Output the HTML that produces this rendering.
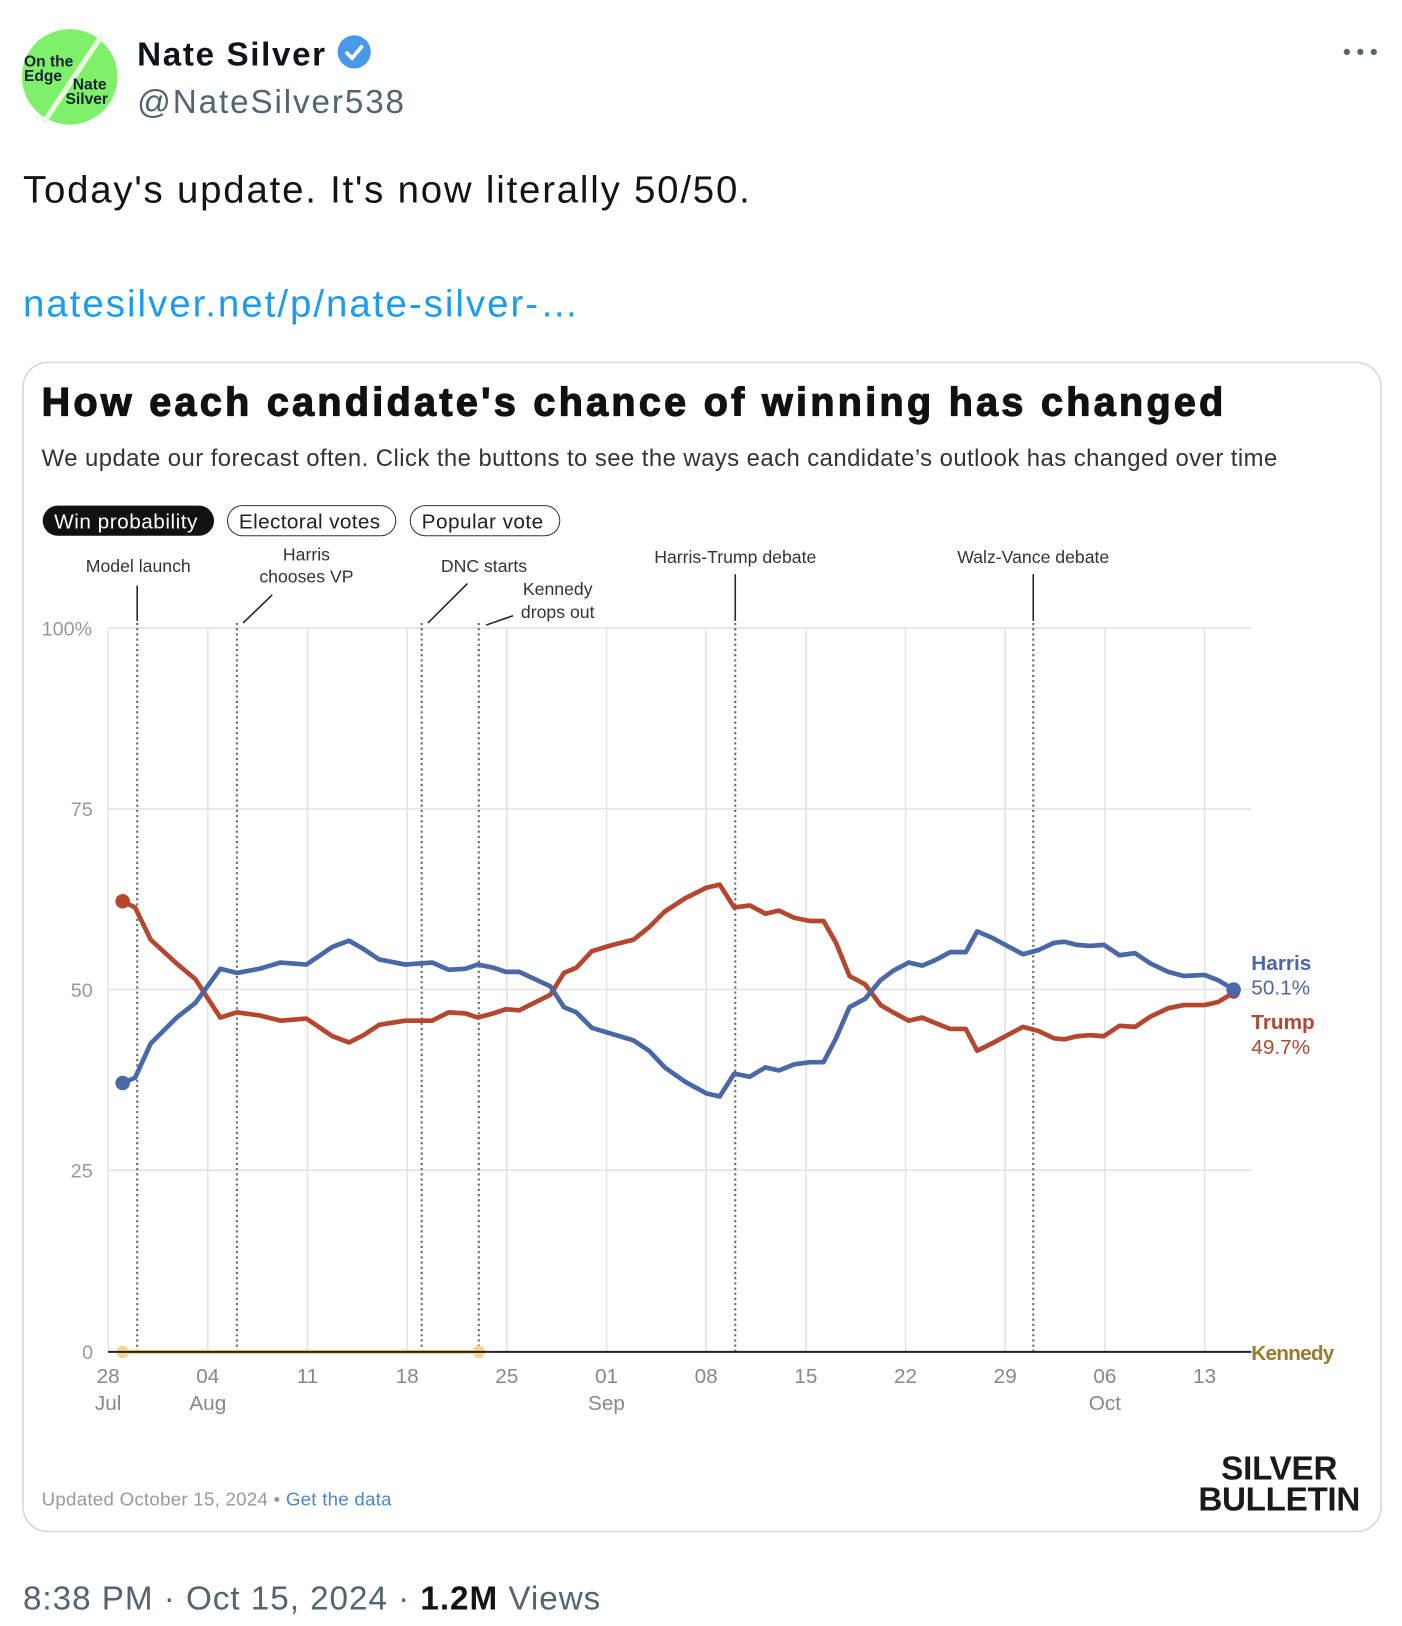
<!DOCTYPE html>
<html><head><meta charset="utf-8"><style>
html,body{margin:0;padding:0;background:#fff;width:1402px;height:1626px;overflow:hidden}
svg{display:block}
</style></head><body>
<svg width="1402" height="1626" viewBox="0 0 1350 1566" xmlns="http://www.w3.org/2000/svg" font-family="Liberation Sans, sans-serif">
<rect width="1350" height="1566" fill="#fff"/>
<circle cx="67" cy="74" r="46" fill="#7ef06a"/>
<line x1="42" y1="118" x2="98" y2="34" stroke="#e9f9dd" stroke-width="5"/>
<text x="23" y="64" font-size="15" font-weight="bold" fill="#123">On the</text>
<text x="23" y="78" font-size="15" font-weight="bold" fill="#123">Edge</text>
<text x="70" y="86" font-size="15" font-weight="bold" fill="#123">Nate</text>
<text x="63" y="100" font-size="15" font-weight="bold" fill="#123">Silver</text>
<text x="132" y="63" font-size="32" font-weight="bold" fill="#0f1419" textLength="181">Nate Silver</text>
<circle cx="341" cy="50" r="16" fill="#4a99e9"/>
<path d="M333 50 l6 6 l10 -12" stroke="#fff" stroke-width="3.5" fill="none"/>
<text x="132" y="109" font-size="32" fill="#536471" textLength="257">@NateSilver538</text>
<circle cx="1297" cy="50" r="3" fill="#536471"/><circle cx="1310" cy="50" r="3" fill="#536471"/><circle cx="1323" cy="50" r="3" fill="#536471"/>
<text x="22" y="195" font-size="37" fill="#0f1419" textLength="700">Today's update. It's now literally 50/50.</text>
<text x="22" y="305" font-size="37" fill="#1d9bf0" textLength="535">natesilver.net/p/nate-silver-…</text>
<rect x="22" y="349" width="1308" height="1126" rx="24" fill="#fff" stroke="#cfd9de" stroke-width="1.5"/>
<text x="40" y="400" font-size="38" font-weight="900" fill="#111" stroke="#111" stroke-width="1.2" textLength="1138">How each candidate's chance of winning has changed</text>
<text x="40" y="449" font-size="23" fill="#333" textLength="1190">We update our forecast often. Click the buttons to see the ways each candidate’s outlook has changed over time</text>
<rect x="41" y="487" width="165" height="29" rx="14.5" fill="#111"/>
<text x="52" y="509" font-size="20" fill="#fff" textLength="138">Win probability</text>
<rect x="219" y="487" width="162" height="29" rx="14.5" fill="#fff" stroke="#333"/>
<text x="230" y="509" font-size="20" fill="#222" textLength="136">Electoral votes</text>
<rect x="395" y="487" width="144" height="29" rx="14.5" fill="#fff" stroke="#333"/>
<text x="406" y="509" font-size="20" fill="#222" textLength="117">Popular vote</text>
<g stroke="#e3e3e3" stroke-width="1.5">
<line x1="104" y1="605" x2="1205" y2="605"/><line x1="104" y1="779" x2="1205" y2="779"/><line x1="104" y1="953" x2="1205" y2="953"/><line x1="104" y1="1127" x2="1205" y2="1127"/>
<line x1="104" y1="605" x2="104" y2="1302"/><line x1="200" y1="605" x2="200" y2="1302"/><line x1="296" y1="605" x2="296" y2="1302"/><line x1="392" y1="605" x2="392" y2="1302"/><line x1="488" y1="605" x2="488" y2="1302"/><line x1="584" y1="605" x2="584" y2="1302"/><line x1="680" y1="605" x2="680" y2="1302"/><line x1="776" y1="605" x2="776" y2="1302"/><line x1="872" y1="605" x2="872" y2="1302"/><line x1="968" y1="605" x2="968" y2="1302"/><line x1="1064" y1="605" x2="1064" y2="1302"/><line x1="1160" y1="605" x2="1160" y2="1302"/>
</g>
<g font-size="19" fill="#999"><text x="40" y="612">100%</text><text x="68" y="786">75</text><text x="68" y="960">50</text><text x="68" y="1134">25</text><text x="79" y="1309">0</text></g>
<g stroke="#666" stroke-width="2" stroke-dasharray="2,3">
<line x1="132" y1="600" x2="132" y2="1302"/><line x1="228" y1="600" x2="228" y2="1302"/><line x1="406" y1="600" x2="406" y2="1302"/><line x1="461" y1="600" x2="461" y2="1302"/><line x1="708" y1="600" x2="708" y2="1302"/><line x1="995" y1="600" x2="995" y2="1302"/>
</g>
<g stroke="#222" stroke-width="1.5">
<line x1="132" y1="564" x2="132" y2="598"/><line x1="234" y1="600" x2="262" y2="573"/><line x1="412" y1="600" x2="450" y2="562"/><line x1="468" y1="602" x2="494" y2="593"/><line x1="708" y1="553" x2="708" y2="598"/><line x1="995" y1="553" x2="995" y2="598"/>
</g>
<g font-size="17" fill="#333" text-anchor="middle">
<text x="133" y="551">Model launch</text><text x="295" y="540">Harris</text><text x="295" y="561">chooses VP</text><text x="466" y="551">DNC starts</text><text x="537" y="573">Kennedy</text><text x="537" y="595">drops out</text><text x="708" y="542">Harris-Trump debate</text><text x="995" y="542">Walz-Vance debate</text>
</g>
<line x1="118" y1="1302" x2="461" y2="1302" stroke="#f4d58e" stroke-width="4"/>
<circle cx="118" cy="1302" r="6" fill="#f4d58e"/><circle cx="461" cy="1302" r="6" fill="#f4d58e"/>
<line x1="104" y1="1302" x2="1205" y2="1302" stroke="#222" stroke-width="2"/>
<g font-size="20" fill="#888" text-anchor="middle">
<text x="104" y="1332">28</text><text x="104" y="1358">Jul</text><text x="200" y="1332">04</text><text x="200" y="1358">Aug</text><text x="296" y="1332">11</text><text x="392" y="1332">18</text><text x="488" y="1332">25</text><text x="584" y="1332">01</text><text x="584" y="1358">Sep</text><text x="680" y="1332">08</text><text x="776" y="1332">15</text><text x="872" y="1332">22</text><text x="968" y="1332">29</text><text x="1064" y="1332">06</text><text x="1064" y="1358">Oct</text><text x="1160" y="1332">13</text>
</g>
<polyline fill="none" stroke="#b5462f" stroke-width="4.5" stroke-linejoin="round" points="118,868 130,874 145,905 170,928 188,943 212,980 228,975 250,978 270,983 295,981 320,998 336,1004 350,997 365,987 390,983 416,983 432,975 448,976 460,980 475,976 487,972 500,973 530,958 543,937 555,932 570,916 590,910 610,905 625,893 640,878 660,865 680,855 693,852 707,874 722,872 737,880 750,877 765,884 780,887 793,887 805,908 818,940 833,948 848,968 860,975 875,983 888,980 900,985 915,991 930,991 941,1012 955,1005 970,997 985,989 1000,993 1015,1000 1025,1001 1037,998 1050,997 1063,998 1078,988 1093,989 1108,979 1125,971 1140,968 1160,968 1173,965 1188,956"/>
<polyline fill="none" stroke="#4a67a8" stroke-width="4.5" stroke-linejoin="round" points="118,1043 130,1038 145,1005 170,980 188,966 212,933 228,937 250,933 270,927 295,929 320,912 336,906 350,914 365,924 390,929 416,927 432,934 448,933 460,929 475,932 487,936 500,936 530,950 543,970 555,975 570,990 590,996 610,1002 625,1012 640,1028 660,1042 680,1053 693,1056 707,1034 722,1037 737,1028 750,1031 765,1025 780,1023 793,1023 805,1000 818,970 833,962 848,944 860,935 875,927 888,930 900,925 915,917 930,917 941,897 955,903 970,911 985,919 1000,915 1015,908 1025,907 1037,910 1050,911 1063,910 1078,920 1093,918 1108,928 1125,936 1140,940 1160,939 1173,944 1188,953"/>
<circle cx="118" cy="868" r="7" fill="#b5462f"/><circle cx="118" cy="1043" r="7" fill="#4a67a8"/>
<circle cx="1188" cy="956" r="6" fill="#b5462f"/><circle cx="1188" cy="953" r="7" fill="#4a67a8"/>
<text x="1205" y="934" font-size="20" font-weight="bold" fill="#4a67a8">Harris</text>
<text x="1205" y="958" font-size="20" fill="#4a67a8">50.1%</text>
<text x="1205" y="991" font-size="20" font-weight="bold" fill="#b5462f">Trump</text>
<text x="1205" y="1015" font-size="20" fill="#b5462f">49.7%</text>
<text x="1205" y="1310" font-size="20" font-weight="bold" fill="#9a7a2c" textLength="80">Kennedy</text>
<text x="40" y="1450" font-size="18" fill="#999" textLength="337">Updated October 15, 2024 • <tspan fill="#4a86c8">Get the data</tspan></text>
<text x="1232" y="1425" font-size="32" font-weight="900" fill="#1a1a1a" text-anchor="middle" textLength="112">SILVER</text>
<text x="1232" y="1455" font-size="32" font-weight="900" fill="#1a1a1a" text-anchor="middle" textLength="156">BULLETIN</text>
<text x="22" y="1550" font-size="32" fill="#536471" textLength="556">8:38 PM · Oct 15, 2024 · <tspan font-weight="bold" fill="#0f1419">1.2M</tspan> Views</text>
</svg>
</body></html>
